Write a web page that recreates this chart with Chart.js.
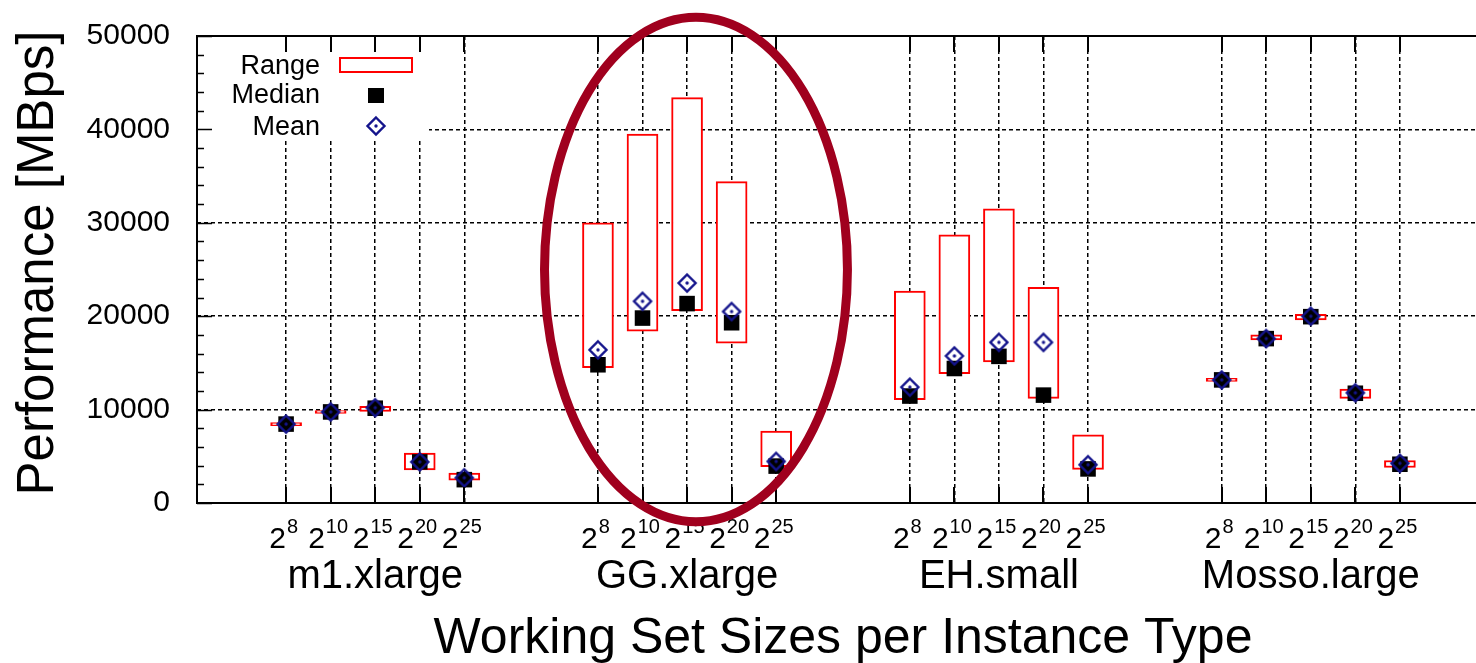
<!DOCTYPE html>
<html>
<head>
<meta charset="utf-8">
<script src="https://cdn.jsdelivr.net/npm/chart.js@4.4.1/dist/chart.umd.min.js"></script>
<style>
html,body{margin:0;padding:0;background:#fff;overflow:hidden;width:1476px;height:663px}
canvas{display:block}
</style>
</head>
<body>
<canvas id="c" width="1500" height="663" style="width:1500px;height:663px"></canvas>
<script>
// ---- data ----
const instanceTypes = ['m1.xlarge', 'GG.xlarge', 'EH.small', 'Mosso.large'];
const sizeExponents = ['8', '10', '15', '20', '25'];
const yTickValues = [0, 10000, 20000, 30000, 40000, 50000];

// order: m1.xlarge(5), GG.xlarge(5), EH.small(5), Mosso.large(5)
const rangeMin = [
  8280, 9600, 9800, 3550, 2450,
  14500, 18400, 20600, 17100, 3900,
  11050, 13850, 15100, 11200, 3600,
  13020, 17450, 19600, 11200, 3800
];
const rangeMax = [
  8620, 9900, 10350, 5350, 3200,
  30000, 39500, 43400, 34400, 7700,
  22700, 28700, 31500, 23100, 7300,
  13340, 18000, 20200, 12200, 4550
];
const medianValues = [
  8450, 9750, 10150, 4400, 2500,
  14800, 19800, 21350, 19300, 3950,
  11450, 14400, 15700, 11550, 3650,
  13180, 17600, 19950, 11750, 4150
];
const meanValues = [
  8450, 9750, 10200, 4400, 2700,
  16400, 21600, 23550, 20500, 4450,
  12400, 15750, 17200, 17200, 4100,
  13180, 17600, 20000, 11800, 4250
];

// ---- layout helpers ----
const FONT = '"Liberation Sans", Arial, Helvetica, sans-serif';
const RED = '#ff0000';
const NAVY = '#14148c';
const ELLIPSE = '#a0001e';
const FIRST_SLOT = 2, GROUP_STRIDE = 7;
const xPos = (g, j) => FIRST_SLOT + GROUP_STRIDE * g + j;
const positions = [];
instanceTypes.forEach((_, g) => sizeExponents.forEach((_, j) => positions.push(xPos(g, j))));

function meanMarker() {
  const c = document.createElement('canvas');
  c.width = 22; c.height = 22;
  const g = c.getContext('2d');
  g.strokeStyle = NAVY; g.lineWidth = 2.4;
  g.beginPath();
  g.moveTo(11, 2.5); g.lineTo(19.5, 11); g.lineTo(11, 19.5); g.lineTo(2.5, 11); g.closePath();
  g.stroke();
  g.fillStyle = NAVY;
  g.beginPath(); g.arc(11, 11, 1.7, 0, Math.PI * 2); g.fill();
  return c;
}
const meanImg = meanMarker();

const decor = {
  id: 'decor',
  beforeDatasetsDraw(chart) {
    const {ctx, chartArea: a} = chart;
    ctx.save();
    // legend box (white, hides grid)
    ctx.fillStyle = '#fff';
    ctx.fillRect(a.left + 1, a.top + 1, 231, 103);
    ctx.fillStyle = '#000';
    ctx.font = '27px ' + FONT;
    ctx.textAlign = 'right';
    ctx.textBaseline = 'alphabetic';
    const tx = a.left + 123;
    ctx.fillText('Range', tx, a.top + 38);
    ctx.fillText('Median', tx, a.top + 67);
    ctx.fillText('Mean', tx, a.top + 99);
    const sx = a.left + 179;
    ctx.strokeStyle = RED; ctx.lineWidth = 2;
    ctx.strokeRect(sx - 36, a.top + 22, 72, 14);
    ctx.fillStyle = '#000';
    ctx.fillRect(sx - 8, a.top + 52, 16, 15);
    ctx.drawImage(meanImg, sx - 11, a.top + 90 - 11);
    ctx.restore();
  },
  afterDatasetsDraw(chart) {
    const {ctx, chartArea: a, scales: {x, y}} = chart;
    ctx.save();
    ctx.strokeStyle = '#000';
    // inward ticks on bottom & top
    ctx.lineWidth = 2;
    ctx.beginPath();
    positions.forEach(p => {
      const px = Math.round(x.getPixelForValue(p));
      ctx.moveTo(px, a.bottom); ctx.lineTo(px, a.bottom - 16);
      ctx.moveTo(px, a.top); ctx.lineTo(px, a.top + 16);
    });
    ctx.stroke();
    // inward ticks on left (major every 10000, minor every 2000)
    ctx.lineWidth = 1.6;
    ctx.beginPath();
    for (let v = 0; v <= 50000; v += 2000) {
      const py = Math.round(y.getPixelForValue(v)) + 0.5;
      const len = v % 10000 === 0 ? 15 : 7;
      ctx.moveTo(a.left, py); ctx.lineTo(a.left + len, py);
    }
    ctx.stroke();
    // frame
    ctx.lineWidth = 2;
    ctx.beginPath();
    ctx.moveTo(a.right, a.top); ctx.lineTo(a.left, a.top);
    ctx.lineTo(a.left, a.bottom); ctx.lineTo(a.right, a.bottom);
    ctx.stroke();
    ctx.restore();
  },
  afterDraw(chart) {
    const {ctx, chartArea: a, scales: {x, y}} = chart;
    ctx.save();
    ctx.fillStyle = '#000';
    ctx.textBaseline = 'alphabetic';
    // x tick labels 2^n and group names
    instanceTypes.forEach((name, g) => {
      sizeExponents.forEach((e, j) => {
        const px = x.getPixelForValue(xPos(g, j));
        ctx.font = '30px ' + FONT;
        const w1 = ctx.measureText('2').width;
        ctx.font = '20px ' + FONT;
        const w2 = ctx.measureText(e).width;
        const start = px - (w1 + w2) / 2 - 3;
        ctx.textAlign = 'left';
        ctx.font = '30px ' + FONT;
        ctx.fillText('2', start, a.bottom + 45);
        ctx.font = '20px ' + FONT;
        ctx.fillText(e, start + w1 + 1, a.bottom + 30);
      });
      ctx.font = '40px ' + FONT;
      ctx.textAlign = 'center';
      ctx.fillText(name, x.getPixelForValue(xPos(g, 2)), a.bottom + 85);
    });
    // axis titles
    ctx.font = '50px ' + FONT;
    ctx.textAlign = 'center';
    ctx.fillText('Working Set Sizes per Instance Type', (a.left + a.right) / 2, a.bottom + 150);
    ctx.save();
    ctx.translate(53, 263);
    ctx.rotate(-Math.PI / 2);
    ctx.font = '51px ' + FONT;
    ctx.fillText('Performance [MBps]', 0, 0);
    ctx.restore();
    // highlight ellipse around GG.xlarge
    const cx = x.getPixelForValue(11.2);
    const cy = y.getPixelForValue(25000);
    const rx = x.getPixelForValue(11.2 + 3.4) - cx;
    const ry = y.getPixelForValue(0) - y.getPixelForValue(27000);
    ctx.strokeStyle = ELLIPSE;
    ctx.lineWidth = 9;
    ctx.beginPath();
    ctx.ellipse(cx, cy, rx, ry, 0, 0, Math.PI * 2);
    ctx.stroke();
    ctx.restore();
  }
};

new Chart(document.getElementById('c'), {
  type: 'bar',
  data: {
    datasets: [
      {
        label: 'Range',
        data: positions.map((p, i) => ({x: p, y: [rangeMin[i], rangeMax[i]]})),
        backgroundColor: '#ffffff',
        borderColor: RED,
        borderWidth: 2,
        borderSkipped: false,
        barThickness: 31,
        order: 3
      },
      {
        type: 'scatter',
        label: 'Median',
        data: positions.map((p, i) => ({x: p, y: medianValues[i]})),
        pointStyle: 'rect',
        pointRadius: 11,
        pointBackgroundColor: '#000',
        pointBorderWidth: 0,
        order: 2
      },
      {
        type: 'scatter',
        label: 'Mean',
        data: positions.map((p, i) => ({x: p, y: meanValues[i]})),
        pointStyle: meanImg,
        pointRadius: 9,
        order: 1
      }
    ]
  },
  options: {
    responsive: false,
    devicePixelRatio: 1,
    animation: false,
    events: [],
    layout: {padding: {left: 0, right: 6, top: 36, bottom: 0}},
    plugins: {legend: {display: false}, tooltip: {enabled: false}, title: {display: false}},
    scales: {
      x: {
        type: 'linear',
        min: 0, max: 29,
        offset: false,
        afterBuildTicks: s => { s.ticks = positions.map(v => ({value: v})); },
        ticks: {display: false},
        grid: {color: '#000', lineWidth: 1.5, drawTicks: false, offset: false},
        border: {display: false, dash: [4, 3]},
        afterFit: s => { s.height = 160; s.paddingLeft = 0; s.paddingRight = 0; }
      },
      y: {
        type: 'linear',
        min: 0, max: 50000,
        afterBuildTicks: s => { s.ticks = yTickValues.map(v => ({value: v})); },
        ticks: {
          callback: v => String(v),
          font: {family: FONT, size: 30},
          color: '#000',
          padding: 27
        },
        grid: {color: '#000', lineWidth: 1.5, drawTicks: false},
        border: {display: false, dash: [4, 3]},
        afterFit: s => { s.width = 197; s.paddingTop = 0; s.paddingBottom = 0; }
      }
    }
  },
  plugins: [decor]
});
</script>
</body>
</html>
